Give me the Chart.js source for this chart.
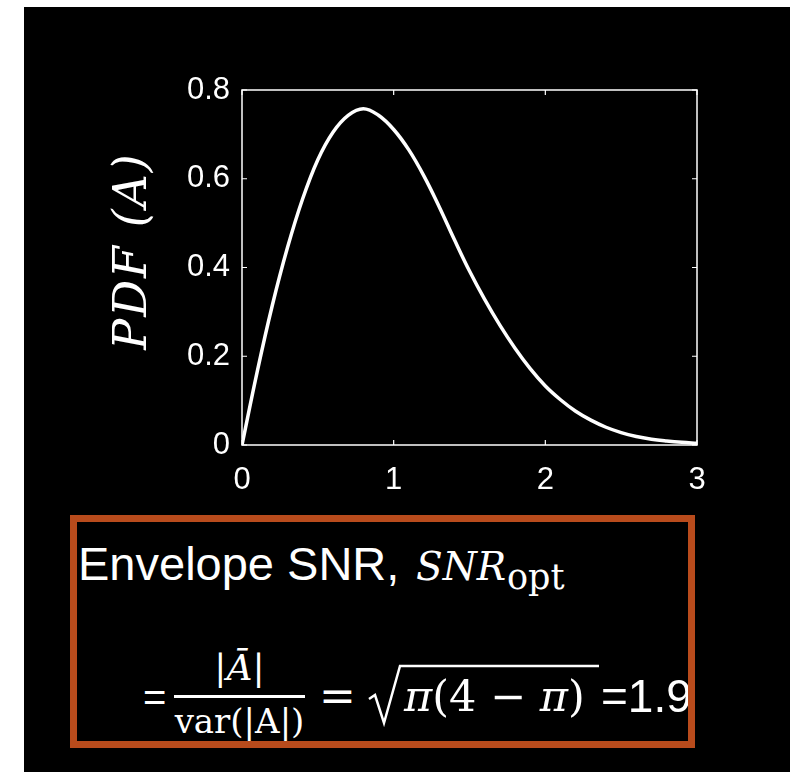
<!DOCTYPE html>
<html>
<head>
<meta charset="utf-8">
<script src="https://cdn.jsdelivr.net/npm/chart.js@4.4.1/dist/chart.umd.min.js"></script>
<style>
  html, body { margin: 0; padding: 0; background: #fff; }
  body { width: 795px; height: 772px; position: relative; overflow: hidden; }
  #bg { position: absolute; left: 24px; top: 7px; width: 766px; height: 765px; background: #000; }
  #wrap { position: absolute; left: 0; top: 0; width: 795px; height: 500px; }
  .t { position: absolute; color: #fff; white-space: nowrap; line-height: 1; }
  .sans { font-family: "Liberation Sans", Arial, sans-serif; }
  .serif { font-family: "DejaVu Serif", serif; }
  .it { font-style: italic; }
  #box { position: absolute; left: 70px; top: 515px; width: 625px; height: 233px;
         border: 7px solid #b84b1c; box-sizing: border-box; }
</style>
</head>
<body>
<div id="bg"></div>
<div id="wrap"><canvas id="graphiquePdf"></canvas></div>

<!-- texte de l'encadré -->
<span class="t sans" style="left:78px; top:540px; font-size:47px;">Envelope SNR,</span>
<span class="t serif it" style="left:416px; top:547px; font-size:39px;">SNR</span>
<span class="t serif" style="left:507px; top:560px; font-size:35px;">opt</span>

<span class="t sans" style="left:143px; top:677px; font-size:40px;">=</span>
<div class="t serif" style="left:174px; top:650px; width:131px; text-align:center; font-size:36px;">|<i>Ā</i>|</div>
<div style="position:absolute; left:174px; top:695px; width:131px; height:3px; background:#fff;"></div>
<div class="t serif" style="left:174px; top:704px; width:131px; text-align:center; font-size:34px;">var(|A|)</div>
<span class="t serif" style="left:319px; top:674px; font-size:44px;">=</span>
<svg style="position:absolute; left:0; top:0;" width="795" height="772">
  <polyline points="369,699 375,695 384,723 400,666 599,666" fill="none" stroke="#fff" stroke-width="2.5"/>
</svg>
<span class="t serif" style="left:404px; top:675px; font-size:43px;"><i>π</i>(4 − <i>π</i>)</span>
<span class="t sans" style="left:601px; top:673px; font-size:46px;">=1.9</span>
<div id="box"></div>

<script>
// valeurs
const mesAmplitudes = [0, 0.1, 0.2, 0.3, 0.4, 0.5, 0.6, 0.7, 0.8, 0.9, 1.0,
    1.1, 1.2, 1.3, 1.4, 1.5, 1.6, 1.7, 1.8, 1.9, 2.0,
    2.1, 2.2, 2.3, 2.4, 2.5, 2.6, 2.7, 2.8, 2.9, 3.0];
const mesDensites = [0, 0.165, 0.315, 0.445, 0.555, 0.643, 0.705, 0.743, 0.758, 0.743, 0.711,
    0.665, 0.606, 0.537, 0.463, 0.392, 0.328, 0.27, 0.218, 0.172, 0.133,
    0.102, 0.076, 0.056, 0.040, 0.028, 0.019, 0.013, 0.009, 0.006, 0.004];
const ticksX = [0, 1, 2, 3];
const ticksY = [0, 0.2, 0.4, 0.6, 0.8];
const titreY = 'PDF (A)';

const points = mesAmplitudes.map((a, i) => ({ x: a, y: mesDensites[i] }));

// cadre + graduations vers l'intérieur, façon matlab
const cadre = {
    id: 'cadre',
    afterDatasetsDraw(chart) {
        const { ctx, chartArea: a, scales } = chart;
        ctx.save();
        ctx.strokeStyle = '#fff';
        ctx.lineWidth = 1.5;
        ctx.strokeRect(a.left, a.top, a.right - a.left, a.bottom - a.top);
        ctx.lineWidth = 1.2;
        ctx.beginPath();
        ticksX.forEach(v => {
            const px = scales.x.getPixelForValue(v);
            ctx.moveTo(px, a.bottom); ctx.lineTo(px, a.bottom - 5);
            ctx.moveTo(px, a.top); ctx.lineTo(px, a.top + 5);
        });
        ticksY.forEach(v => {
            const py = scales.y.getPixelForValue(v);
            ctx.moveTo(a.left, py); ctx.lineTo(a.left + 5, py);
            ctx.moveTo(a.right, py); ctx.lineTo(a.right - 5, py);
        });
        ctx.stroke();

        // titre de l'axe y
        ctx.translate(146, 251);
        ctx.rotate(-Math.PI / 2);
        ctx.fillStyle = '#fff';
        ctx.font = 'italic 46px "DejaVu Serif"';
        ctx.letterSpacing = '2px';
        ctx.textAlign = 'center';
        ctx.textBaseline = 'alphabetic';
        ctx.fillText(titreY, 0, 0);
        ctx.restore();
    }
};

const leGraphique = new Chart(document.getElementById('graphiquePdf'), {
    type: 'line',
    data: {
        datasets: [{
            data: points,
            borderColor: '#fff',
            borderWidth: 3.5,
            pointRadius: 0,
            tension: 0.4,
            fill: false
        }]
    },
    options: {
        responsive: true,
        maintainAspectRatio: false,
        animation: false,
        layout: { padding: { top: 90, right: 98, left: 0, bottom: 0 } },
        plugins: { legend: { display: false }, tooltip: { enabled: false } },
        scales: {
            x: {
                type: 'linear', min: 0, max: 3,
                afterBuildTicks: s => { s.ticks = ticksX.map(v => ({ value: v })); },
                afterFit: s => { s.height = 55; },
                ticks: { color: '#fff', font: { family: '"Liberation Sans"', size: 31 }, padding: 17, maxRotation: 0 },
                grid: { display: false, drawTicks: false },
                border: { display: false }
            },
            y: {
                min: 0, max: 0.8,
                afterBuildTicks: s => { s.ticks = ticksY.map(v => ({ value: v })); },
                afterFit: s => { s.width = 242; },
                ticks: { color: '#fff', font: { family: '"Liberation Sans"', size: 31 }, padding: 12,
                         callback: v => v === 0 ? '0' : v.toFixed(1) },
                grid: { display: false, drawTicks: false },
                border: { display: false }
            }
        }
    },
    plugins: [cadre]
});
</script>
</body>
</html>
